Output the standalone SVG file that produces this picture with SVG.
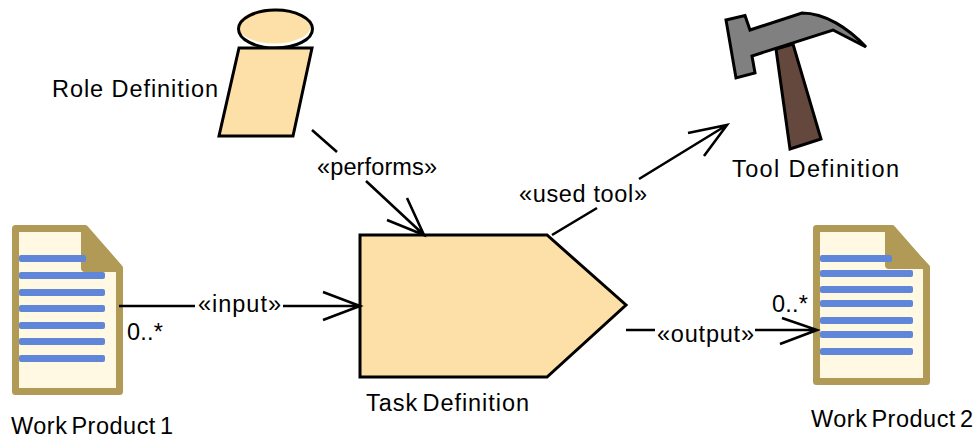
<svg xmlns="http://www.w3.org/2000/svg" width="976" height="439" viewBox="0 0 976 439">
<style>
text{font-family:"Liberation Sans",Arial,sans-serif;font-size:23.500px;fill:#000}
.n{word-spacing:-3px}
.o{stroke:#000;stroke-width:3;stroke-linejoin:miter}
.c{fill:none;stroke:#000;stroke-width:2.6}
.p{fill:#fff9e3;stroke:#b09a55;stroke-width:7;stroke-linejoin:round}
.f{fill:#b09a55;stroke:#b09a55;stroke-width:4;stroke-linejoin:round}
.b{fill:#5f86d8}
</style>
<rect width="976" height="439" fill="#fff"/>
<g id="role">
<ellipse cx="274.500" cy="26" rx="36.500" ry="17.500" fill="#fde0a8"/>
<ellipse cx="275.500" cy="29" rx="37" ry="19" fill="none" class="o"/>
<path class="o" fill="#fde0a8" d="M239 48H312L293 136H219Z"/>
<text x="52" y="97" textLength="166">Role Definition</text>
</g>
<g id="tool">
<path class="o" fill="#64483e" d="M776 49L793 44L821 139L790 149Z"/>
<path class="o" fill="#808080" d="M726 20L745 15.500L750 30L802 13C825 13 848 28 866 47L833 30L752 56L755 73L736 78Z"/>
<text x="732" y="177" textLength="167">Tool Definition</text>
</g>
<g id="task">
<path class="o" fill="#fde0a8" d="M360 235H547L626 305L547 377H360Z"/>
<text class="n" x="366" y="411" textLength="163">Task Definition</text>
</g>
<g id="wp1">
<path class="p" d="M15.500 228.500H85L119.500 268V391.500H15.500Z"/>
<path class="f" d="M83 229H85L121 270H85Q83 270 83 268Z"/>
<rect class="b" x="19" y="255" width="67" height="7" rx="2"/>
<rect class="b" x="19" y="272" width="86" height="7" rx="2"/>
<rect class="b" x="19" y="289" width="86" height="7" rx="2"/>
<rect class="b" x="19" y="305" width="86" height="7" rx="2"/>
<rect class="b" x="19" y="322" width="86" height="7" rx="2"/>
<rect class="b" x="19" y="338" width="86" height="7" rx="2"/>
<rect class="b" x="19" y="355" width="86" height="7" rx="2"/>
<text class="n" x="11" y="434" textLength="162">Work Product 1</text>
</g>
<g id="wp2">
<path class="p" d="M816.500 228.500H892L926.500 268V381.500H816.500Z"/>
<path class="f" d="M889 229H892L928 267H889Q887 267 887 265V229Z"/>
<rect class="b" x="820" y="255" width="72" height="7" rx="2"/>
<rect class="b" x="820" y="270" width="93" height="7" rx="2"/>
<rect class="b" x="820" y="286" width="93" height="7" rx="2"/>
<rect class="b" x="820" y="300" width="93" height="7" rx="2"/>
<rect class="b" x="820" y="317" width="93" height="7" rx="2"/>
<rect class="b" x="820" y="331" width="93" height="7" rx="2"/>
<rect class="b" x="820" y="348" width="93" height="7" rx="2"/>
<text class="n" x="811" y="427" textLength="162">Work Product 2</text>
</g>
<g id="connectors">
<path class="c" d="M312 130L337 152M366 181L424 235M407 198L424 235L387 220"/>
<path class="c" d="M552 235L597 208M639 179L727 125M688 133L727 125L704 156"/>
<path class="c" d="M119 306H195M283 306H360M323 292L360 306L323 320"/>
<path class="c" d="M626 330H655M755 330H817M782 318L817 330L780 344"/>
<text x="317" y="175" textLength="120">«performs»</text>
<text x="519" y="202" textLength="128">«used tool»</text>
<text x="198" y="312" textLength="83">«input»</text>
<text x="657" y="342" textLength="97">«output»</text>
<text x="127" y="340" textLength="36">0..*</text>
<text x="772" y="312" textLength="36">0..*</text>
</g>
</svg>
